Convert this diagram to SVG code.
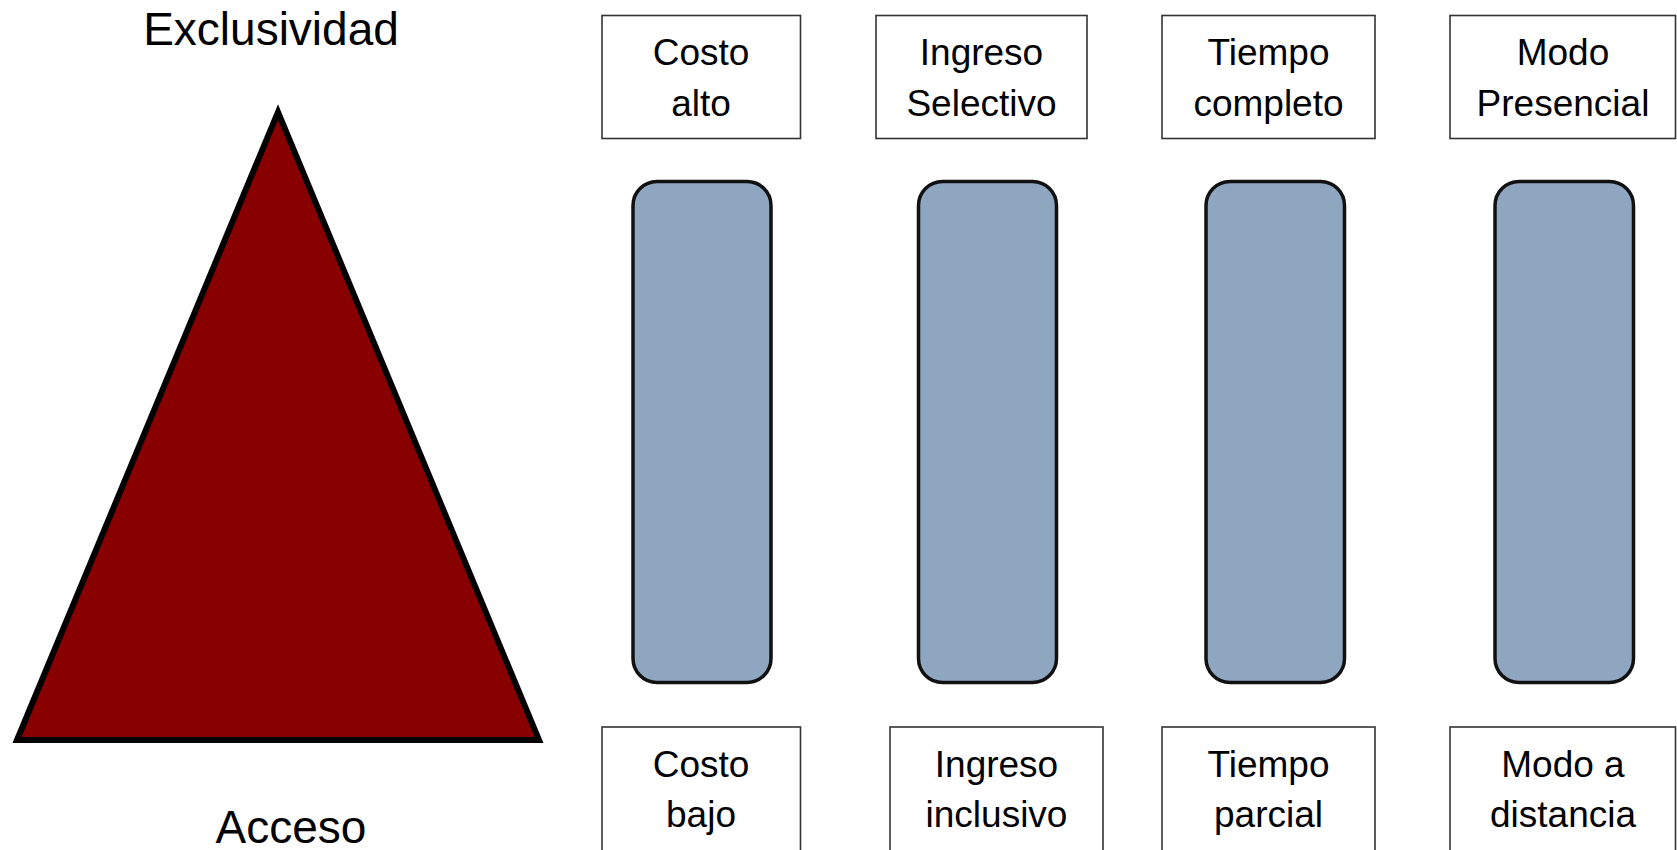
<svg xmlns="http://www.w3.org/2000/svg" width="1677" height="850" viewBox="0 0 1677 850">
<style>
text{font-family:"Liberation Sans","DejaVu Sans",sans-serif;fill:#000;text-anchor:middle}
.big{font-size:46px}
.lbl{font-size:37px}
.box{fill:#fff;stroke:#333;stroke-width:1.6}
.bar{fill:#8FA6C1;stroke:#111;stroke-width:3.5}
</style>
<rect width="1677" height="850" fill="#fff"/>
<g id="triangle">
<polygon points="17,740 278,112 539,740" fill="#880000" stroke="#000" stroke-width="6" stroke-linejoin="miter"/>
</g>
<g id="label-exclusividad"><text class="big" x="271" y="45">Exclusividad</text></g>
<g id="label-acceso"><text class="big" x="291" y="843">Acceso</text></g>

<g id="top-costo"><rect class="box" x="602" y="15.5" width="198.5" height="123"/><text class="lbl" x="701" y="65">Costo</text><text class="lbl" x="701" y="116">alto</text></g>
<g id="top-ingreso"><rect class="box" x="876" y="15.5" width="211" height="123"/><text class="lbl" x="981.5" y="65">Ingreso</text><text class="lbl" x="981.5" y="116">Selectivo</text></g>
<g id="top-tiempo"><rect class="box" x="1162" y="15.5" width="213" height="123"/><text class="lbl" x="1268.5" y="65">Tiempo</text><text class="lbl" x="1268.5" y="116">completo</text></g>
<g id="top-modo"><rect class="box" x="1450" y="15.5" width="225.5" height="123"/><text class="lbl" x="1563" y="65">Modo</text><text class="lbl" x="1563" y="116">Presencial</text></g>

<g id="bar-1"><rect class="bar" x="633" y="181.5" width="138" height="501" rx="24"/></g>
<g id="bar-2"><rect class="bar" x="918.5" y="181.5" width="138" height="501" rx="24"/></g>
<g id="bar-3"><rect class="bar" x="1206" y="181.5" width="138.5" height="501" rx="24"/></g>
<g id="bar-4"><rect class="bar" x="1495" y="181.5" width="138.5" height="501" rx="24"/></g>

<g id="bottom-costo"><rect class="box" x="602" y="727" width="198.5" height="126"/><text class="lbl" x="701" y="777">Costo</text><text class="lbl" x="701" y="827">bajo</text></g>
<g id="bottom-ingreso"><rect class="box" x="890" y="727" width="213" height="126"/><text class="lbl" x="996.5" y="777">Ingreso</text><text class="lbl" x="996.5" y="827">inclusivo</text></g>
<g id="bottom-tiempo"><rect class="box" x="1162" y="727" width="213" height="126"/><text class="lbl" x="1268.5" y="777">Tiempo</text><text class="lbl" x="1268.5" y="827">parcial</text></g>
<g id="bottom-modo"><rect class="box" x="1450" y="727" width="225.5" height="126"/><text class="lbl" x="1563" y="777">Modo a</text><text class="lbl" x="1563" y="827">distancia</text></g>
<g id="connectors"/>
</svg>
